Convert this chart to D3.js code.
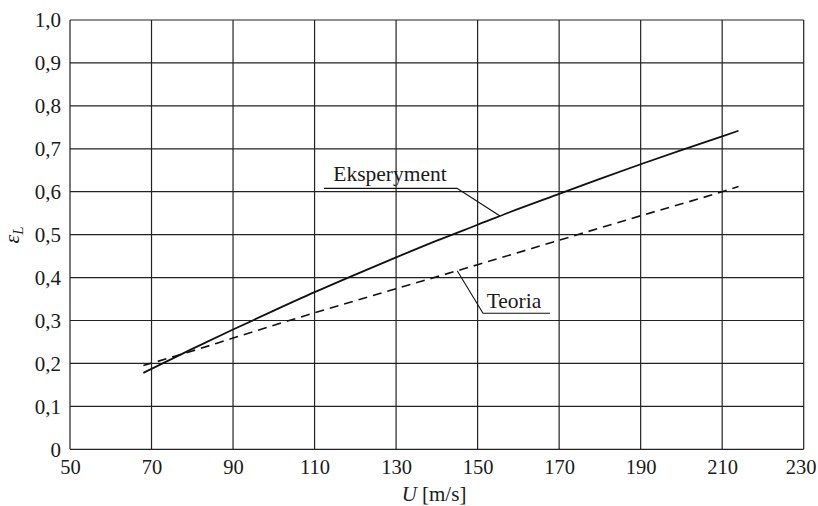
<!DOCTYPE html>
<html>
<head>
<meta charset="utf-8">
<script src="https://cdn.jsdelivr.net/npm/d3@7/dist/d3.min.js"></script>
<style>
  html, body { margin: 0; padding: 0; background: #fff; }
  svg { display: block; }
</style>
</head>
<body>
<svg id="chart" width="818" height="506"></svg>
<script>
// Flow speed U [m/s]
const speedExp = [68, 80, 90, 100, 110, 120, 130, 140, 150, 160, 170, 180, 190, 200, 210, 214];
// Measured strain ratio εL
const epsExp = [0.178, 0.234, 0.279, 0.323, 0.366, 0.407, 0.447, 0.486, 0.523, 0.560, 0.595, 0.630, 0.664, 0.697, 0.729, 0.742];
// Theoretical prediction
const speedTheory = [68, 80, 90, 110, 130, 150, 170, 190, 210, 214];
const epsTheory = [0.195, 0.229, 0.259, 0.318, 0.374, 0.430, 0.487, 0.544, 0.600, 0.612];

const xTicks = [50, 70, 90, 110, 130, 150, 170, 190, 210, 230];
const yTicks = [0, 0.1, 0.2, 0.3, 0.4, 0.5, 0.6, 0.7, 0.8, 0.9, 1.0];
const seriesNames = ["Eksperyment", "Teoria"];

const SERIF = "\"Liberation Serif\"";
const INK = "#1a1a1a";
const margin = { left: 70, top: 20, right: 14.3, bottom: 56.7 };
const W = 818, H = 506;
const svg = d3.select("#chart");

const x = d3.scaleLinear().domain([50, 230]).range([margin.left, W - margin.right]);
const y = d3.scaleLinear().domain([0, 1]).range([H - margin.bottom, margin.top]);

const fmtY = v => v === 0 ? "0" : d3.format(".1f")(v).replace(".", ",");
const serifText = (sel, size = 21) =>
  sel.style("font-family", SERIF).style("font-size", size + "px").style("fill", INK);

// grid (also serves as frame)
const grid = svg.append("g").attr("stroke", "#222").attr("stroke-width", 1.2);
grid.selectAll("line.v").data(xTicks).join("line")
  .attr("x1", d => x(d)).attr("x2", d => x(d))
  .attr("y1", y(0)).attr("y2", y(1));
grid.selectAll("line.h").data(yTicks).join("line")
  .attr("x1", x(50)).attr("x2", x(230))
  .attr("y1", d => y(d)).attr("y2", d => y(d));

// tick labels via d3 axis generators (axis lines hidden)
const xAxis = svg.append("g")
  .attr("transform", `translate(0,${y(0)})`)
  .call(d3.axisBottom(x).tickValues(xTicks).tickSize(0).tickPadding(10).tickFormat(d3.format("d")));
xAxis.select(".domain").remove();
xAxis.selectAll("text").call(serifText, 20.5);
// keep the last label inside the canvas edge
xAxis.selectAll("text").filter(d => d === 230).attr("dx", -3);

const yAxis = svg.append("g")
  .attr("transform", `translate(${x(50)},0)`)
  .call(d3.axisLeft(y).tickValues(yTicks).tickSize(0).tickPadding(9).tickFormat(fmtY));
yAxis.select(".domain").remove();
yAxis.selectAll("text").call(serifText, 21);

// curves
const line = d3.line().curve(d3.curveMonotoneX);
const expPts = speedExp.map((u, i) => [x(u), y(epsExp[i])]);
const thPts = speedTheory.map((u, i) => [x(u), y(epsTheory[i])]);

svg.append("path").attr("d", line(expPts))
  .attr("fill", "none").attr("stroke", "#111").attr("stroke-width", 1.8);
svg.append("path").attr("d", line(thPts))
  .attr("fill", "none").attr("stroke", "#111").attr("stroke-width", 1.6)
  .attr("stroke-dasharray", "9,6");

// annotation for measured curve
const uExpLbl = 155.5;
const eExpLbl = d3.interpolateNumber(0.523, 0.560)((uExpLbl - 150) / 10);
svg.append("polyline")
  .attr("points", [[324, 188.3], [457, 188.3], [x(uExpLbl), y(eExpLbl)]].map(p => p.join(",")).join(" "))
  .attr("fill", "none").attr("stroke", "#111").attr("stroke-width", 1.2);
svg.append("text").attr("x", 390).attr("y", 181).attr("text-anchor", "middle")
  .call(serifText, 21.5).text(seriesNames[0]);

// annotation for theory curve
const uThLbl = 145;
const eThLbl = d3.interpolateNumber(0.374, 0.430)((uThLbl - 130) / 20);
svg.append("polyline")
  .attr("points", [[550, 313.3], [483, 313.3], [x(uThLbl), y(eThLbl)]].map(p => p.join(",")).join(" "))
  .attr("fill", "none").attr("stroke", "#111").attr("stroke-width", 1.1);
svg.append("text").attr("x", 514).attr("y", 308).attr("text-anchor", "middle")
  .call(serifText, 21.5).text(seriesNames[1]);

// axis titles
const xt = svg.append("text").attr("x", 434).attr("y", 501).attr("text-anchor", "middle").call(serifText, 21);
xt.append("tspan").style("font-style", "italic").text("U");
xt.append("tspan").text(" [m/s]");

const yt = svg.append("text").attr("transform", "translate(19,235) rotate(-90)")
  .attr("text-anchor", "middle").call(serifText, 22);
yt.append("tspan").style("font-style", "italic").text("ε");
yt.append("tspan").style("font-style", "italic").style("font-size", "15px").attr("dy", 4).text("L");
</script>
</body>
</html>
